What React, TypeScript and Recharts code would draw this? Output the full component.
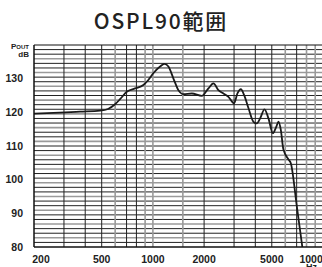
import React from "react";
import { LineChart, Line, XAxis, YAxis, ReferenceLine } from "recharts";

const freqs = [200, 284, 373, 489, 545, 599, 641, 702, 785, 879, 940, 1006, 1102, 1168, 1234, 1319, 1412, 1511, 1694, 1938, 2120, 2268, 2427, 2600, 2780, 3000, 3140, 3288, 3440, 3648, 3900, 4080, 4270, 4530, 4780, 5070, 5310, 5470, 5650, 5850, 6270, 6470, 7020, 7560];
const levels = [119.6, 119.9, 120.2, 120.5, 121.0, 122.4, 123.9, 126.1, 127.1, 128.1, 129.6, 131.6, 133.6, 134.4, 133.6, 130.1, 126.6, 125.4, 125.6, 124.9, 127.1, 128.6, 126.6, 125.6, 124.6, 122.7, 125.6, 126.9, 125.1, 121.2, 117.2, 116.7, 118.2, 120.9, 118.2, 113.8, 115.7, 117.2, 114.8, 109.0, 106.0, 104.9, 92.0, 80.0];

const xTicks = [200, 500, 1000, 2000, 5000, 10000];
const yTicks = [80, 90, 100, 110, 120, 130];
const gridX = [300, 400, 500, 600, 700, 800, 900, 1000, 1500, 2000, 3000, 4000, 5000, 6000, 7000, 8000, 9000];
const gridXGray = [600, 900, 1000, 1500, 6000, 8000, 9000];
const gridYCount = 44;

const data = freqs.map((f, i) => ({ f, v: levels[i] }));
const gridY = Array.from({ length: gridYCount - 1 }, (_, i) => 80 + ((i + 1) * 60) / gridYCount);

const FONT = "Liberation Sans, Arial, sans-serif";

const XTick = (props: any) => {
  const { x, y, payload } = props;
  let dx = 0;
  if (payload.value === 200) dx = 7;
  if (payload.value === 10000) dx = -9;
  return (
    <text x={x + dx} y={y + 8} textAnchor="middle" fontSize={10.5} fontWeight="bold" fill="#222" fontFamily={FONT}>
      {payload.value}
    </text>
  );
};

export default function App() {
  return (
    <div style={{ position: "absolute", left: 0, top: 0, width: 322, height: 267, overflow: "hidden", background: "#fff" }}>
      <div style={{ position: "absolute", left: 0, top: 6, width: 322, textAlign: "center", fontFamily: "'Noto Sans CJK JP', 'Noto Sans', sans-serif", fontSize: 21, fontWeight: 500, letterSpacing: 1.8, color: "#222", lineHeight: "28px" }}>
        OSPL90範囲
      </div>
      <div style={{ position: "absolute", left: 5, top: 40, width: 24, textAlign: "right", fontFamily: FONT, fontWeight: "bold", color: "#222", lineHeight: "8px" }}>
        <div><span style={{ fontSize: 8 }}>P</span><span style={{ fontSize: 6 }}>OUT</span></div>
        <div style={{ fontSize: 8 }}>dB</div>
      </div>
      <div style={{ position: "absolute", left: 306, top: 263, fontFamily: FONT, fontWeight: "bold", fontSize: 9, color: "#222", lineHeight: "9px" }}>Hz</div>
      <LineChart width={330} height={267} data={data} margin={{ top: 45, right: 7, left: 0, bottom: 0 }}>
        <XAxis dataKey="f" type="number" scale="log" domain={[200, 10000]} ticks={xTicks} tick={<XTick />} tickLine={false} axisLine={{ stroke: "#111", strokeWidth: 1.5 }} height={20} allowDataOverflow interval={0} />
        <YAxis type="number" domain={[80, 140]} ticks={yTicks} width={34} tickLine={false} axisLine={{ stroke: "#111", strokeWidth: 1.5 }} tick={{ fontSize: 10.5, fontWeight: "bold", fill: "#222", fontFamily: FONT }} tickMargin={5} allowDataOverflow />
        {gridY.map((g, i) => (
          <ReferenceLine key={"gy" + i} y={g} stroke={i % 3 === 1 ? "#9a9a9a" : "#222"} strokeWidth={i % 3 === 1 ? 1.6 : 1} ifOverflow="hidden" />
        ))}
        {gridX.map((g) => (
          <ReferenceLine key={"gx" + g} x={g} stroke={gridXGray.includes(g) ? "#9a9a9a" : "#222"} strokeWidth={gridXGray.includes(g) ? 1.6 : 1} ifOverflow="hidden" />
        ))}
        <ReferenceLine y={140} stroke="#111" strokeWidth={1.2} />
        <ReferenceLine x={10000} stroke="#111" strokeWidth={1.2} />
        <Line dataKey="v" type="monotone" stroke="#1a1a1a" strokeWidth={1.8} dot={false} isAnimationActive={false} />
      </LineChart>
    </div>
  );
}
